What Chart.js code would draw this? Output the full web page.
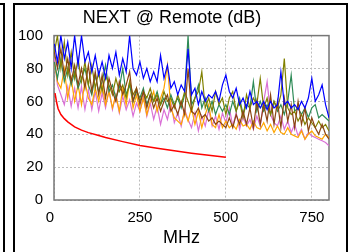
<!DOCTYPE html>
<html>
<head>
<meta charset="utf-8">
<script src="https://cdn.jsdelivr.net/npm/chart.js@4/dist/chart.umd.min.js"></script>
<style>
  html, body { margin: 0; padding: 0; background: #fff; overflow: hidden; }
  body { width: 349px; height: 252px; position: relative; }
  .prev { position: absolute; left: -20px; top: 3px; width: 21px; height: 300px; border: 2px solid #000; }
  .panel { position: absolute; left: 13px; top: 3px; width: 331px; height: 300px; border: 2px solid #000; }
  #nextChart { position: absolute; left: 0; top: 0; }
</style>
</head>
<body>
<div class="prev"></div>
<div class="panel"><canvas id="nextChart" width="331" height="247"></canvas></div>
<script>
// frequency points (MHz)
const freqs = [1, 10, 20, 30, 40, 50, 60, 70, 80, 90,
  100, 110, 120, 130, 140, 150, 160, 170, 180, 190,
  200, 210, 220, 230, 240, 250, 260, 270, 280, 290,
  300, 310, 320, 330, 340, 350, 360, 370, 380, 390,
  400, 410, 420, 430, 440, 450, 460, 470, 480, 490,
  500, 510, 520, 530, 540, 550, 560, 570, 580, 590,
  600, 610, 620, 630, 640, 650, 660, 670, 680, 690,
  700, 710, 720, 730, 740, 750, 760, 770, 780, 790, 800];

const bluePair = [95, 84, 100, 86, 96, 80, 100, 82, 100, 84,
  90, 78, 88, 76, 84, 74, 88, 80, 90, 76,
  86, 78, 100, 80, 76, 84, 74, 80, 72, 78,
  72, 88, 74, 82, 68, 72, 64, 70, 66, 92,
  64, 68, 58, 66, 60, 64, 62, 66, 60, 70,
  76, 66, 62, 68, 58, 62, 56, 66, 58, 60,
  56, 60, 55, 60, 56, 58, 78, 58, 60, 56,
  58, 55, 60, 56, 62, 74, 60, 64, 70, 58, 50];

const greenPair = [84, 74, 86, 72, 80, 70, 78, 68, 74, 80,
  70, 64, 76, 66, 72, 82, 66, 70, 62, 68,
  80, 64, 70, 60, 66, 62, 68, 58, 64, 60,
  66, 58, 62, 56, 64, 58, 62, 56, 64, 100,
  58, 62, 70, 56, 62, 54, 60, 52, 58, 54,
  58, 52, 60, 54, 62, 52, 58, 56, 72, 54,
  60, 54, 58, 52, 60, 54, 58, 52, 60, 76,
  54, 56, 52, 56, 50, 56, 58, 50, 52, 50, 48];

const olivePair = [90, 100, 80, 96, 76, 90, 74, 86, 72, 84,
  70, 82, 68, 78, 66, 76, 70, 64, 74, 66,
  70, 62, 72, 64, 68, 60, 66, 62, 68, 60,
  64, 58, 66, 60, 62, 56, 64, 58, 66, 60,
  54, 62, 66, 78, 56, 62, 54, 66, 58, 62,
  52, 62, 66, 54, 60, 50, 64, 56, 62, 58,
  74, 56, 62, 52, 60, 56, 64, 86, 56, 52,
  54, 48, 52, 46, 50, 47, 44, 48, 44, 46, 42];

const brownPair = [90, 80, 92, 76, 86, 72, 82, 70, 80, 68,
  82, 66, 78, 64, 76, 62, 74, 66, 60, 72,
  64, 70, 78, 60, 68, 58, 66, 56, 64, 56,
  62, 54, 60, 64, 54, 58, 52, 60, 52, 80,
  54, 52, 56, 50, 52, 48, 50, 46, 48, 46,
  44, 50, 44, 52, 46, 54, 46, 56, 44, 60,
  46, 58, 48, 64, 46, 60, 44, 62, 48, 58,
  44, 60, 46, 56, 42, 50, 44, 40, 46, 40, 37];

const orangePair = [84, 72, 68, 80, 62, 74, 60, 70, 58, 72,
  62, 58, 68, 60, 70, 58, 66, 56, 64, 54,
  68, 58, 72, 56, 64, 54, 62, 52, 60, 66,
  54, 62, 68, 82, 56, 50, 48, 46, 54, 48,
  56, 46, 54, 44, 52, 58, 46, 44, 52, 44,
  48, 44, 46, 43, 49, 45, 46, 43, 48, 44,
  43, 47, 42, 46, 41, 45, 41, 40, 44, 40,
  39, 38, 42, 37, 40, 42, 39, 38, 37, 40, 38];

const violetPair = [86, 70, 64, 58, 69, 57, 68, 56, 69, 55,
  67, 55, 66, 54, 65, 56, 67, 55, 64, 53,
  63, 55, 61, 51, 59, 54, 63, 51, 59, 49,
  57, 46, 55, 49, 59, 47, 53, 45, 55, 49,
  44, 53, 42, 51, 45, 55, 45, 51, 43, 53,
  47, 56, 45, 53, 43, 51, 45, 49, 43, 51,
  45, 60, 72, 52, 47, 45, 51, 43, 48, 41,
  46, 39, 43, 37, 41, 39, 38, 37, 36, 35, 33];

// limit line
const limitFreqs = [3, 8, 12, 20, 30, 40, 60, 80, 100, 125, 150, 200, 250, 300, 350, 400, 450, 500];
const limitVals = [65, 59, 55.5, 52, 49.5, 47.5, 44.5, 42.5, 41, 39.5, 38, 35.5, 33.2, 31.5, 30, 28.5, 27.2, 26];

const xTicks = [0, 250, 500, 750];
const yTicks = [0, 20, 40, 60, 80, 100];

function toPoints(xs, ys) {
  return xs.map((x, i) => ({ x: x, y: ys[i] }));
}

function lineSet(label, ys, color, xs, width) {
  return {
    label: label,
    data: toPoints(xs || freqs, ys),
    borderColor: color,
    backgroundColor: color,
    borderWidth: width || 1.2,
    pointRadius: 0,
    tension: 0,
    fill: false,
  };
}

// grey box round the plot area
const plotFrame = {
  id: "plotFrame",
  beforeDatasetsDraw(chart) {
    const { ctx, chartArea: a } = chart;
    ctx.save();
    ctx.strokeStyle = "#777";
    ctx.lineWidth = 1.5;
    ctx.strokeRect(a.left, a.top, a.right - a.left, a.bottom - a.top);
    ctx.restore();
  },
};

const tickFont = { family: "Liberation Sans, Arial, sans-serif", size: 15 };
const titleFont = { family: "Liberation Sans, Arial, sans-serif", size: 18 };

new Chart(document.getElementById("nextChart").getContext("2d"), {
  type: "line",
  data: {
    datasets: [
      lineSet("Limit", limitVals, "#ff0000", limitFreqs, 1.5),
      lineSet("Pair 1", bluePair, "#0000ff"),
      lineSet("Pair 2", brownPair, "#8b4513"),
      lineSet("Pair 3", olivePair, "#808000"),
      lineSet("Pair 4", greenPair, "#2e8b57"),
      lineSet("Pair 5", orangePair, "#ffa500"),
      lineSet("Pair 6", violetPair, "#da70d6"),
    ],
  },
  options: {
    responsive: false,
    animation: false,
    layout: { padding: { left: 0, right: 17, top: 0, bottom: 0 } },
    plugins: {
      legend: { display: false },
      tooltip: { enabled: false },
      title: {
        display: true,
        text: "NEXT @ Remote (dB)",
        color: "#000",
        font: { ...titleFont, weight: "normal" },
        padding: { top: 2, bottom: 7 },
      },
    },
    scales: {
      x: {
        type: "linear",
        min: 0,
        max: 800,
        afterBuildTicks: (s) => { s.ticks = xTicks.map((v) => ({ value: v })); },
        afterFit: (s) => { s.height = 52; },
        ticks: {
          color: "#000",
          font: tickFont,
          padding: 9,
          maxRotation: 0,
          callback: (v) => (v === 0 ? "0  " : String(v)),
        },
        grid: { color: "#bbb", lineWidth: 1, drawTicks: false },
        border: { display: false, dash: [2, 2] },
        title: {
          display: true,
          text: "MHz    ",
          color: "#000",
          font: titleFont,
          padding: { top: 0, bottom: 3 },
        },
      },
      y: {
        min: 0,
        max: 100,
        afterBuildTicks: (s) => { s.ticks = yTicks.map((v) => ({ value: v })); },
        afterFit: (s) => { s.width = 39; },
        ticks: { color: "#000", font: tickFont, padding: 11 },
        grid: { color: "#bbb", lineWidth: 1, drawTicks: false },
        border: { display: false, dash: [2, 2] },
      },
    },
  },
  plugins: [plotFrame],
});
</script>
</body>
</html>
